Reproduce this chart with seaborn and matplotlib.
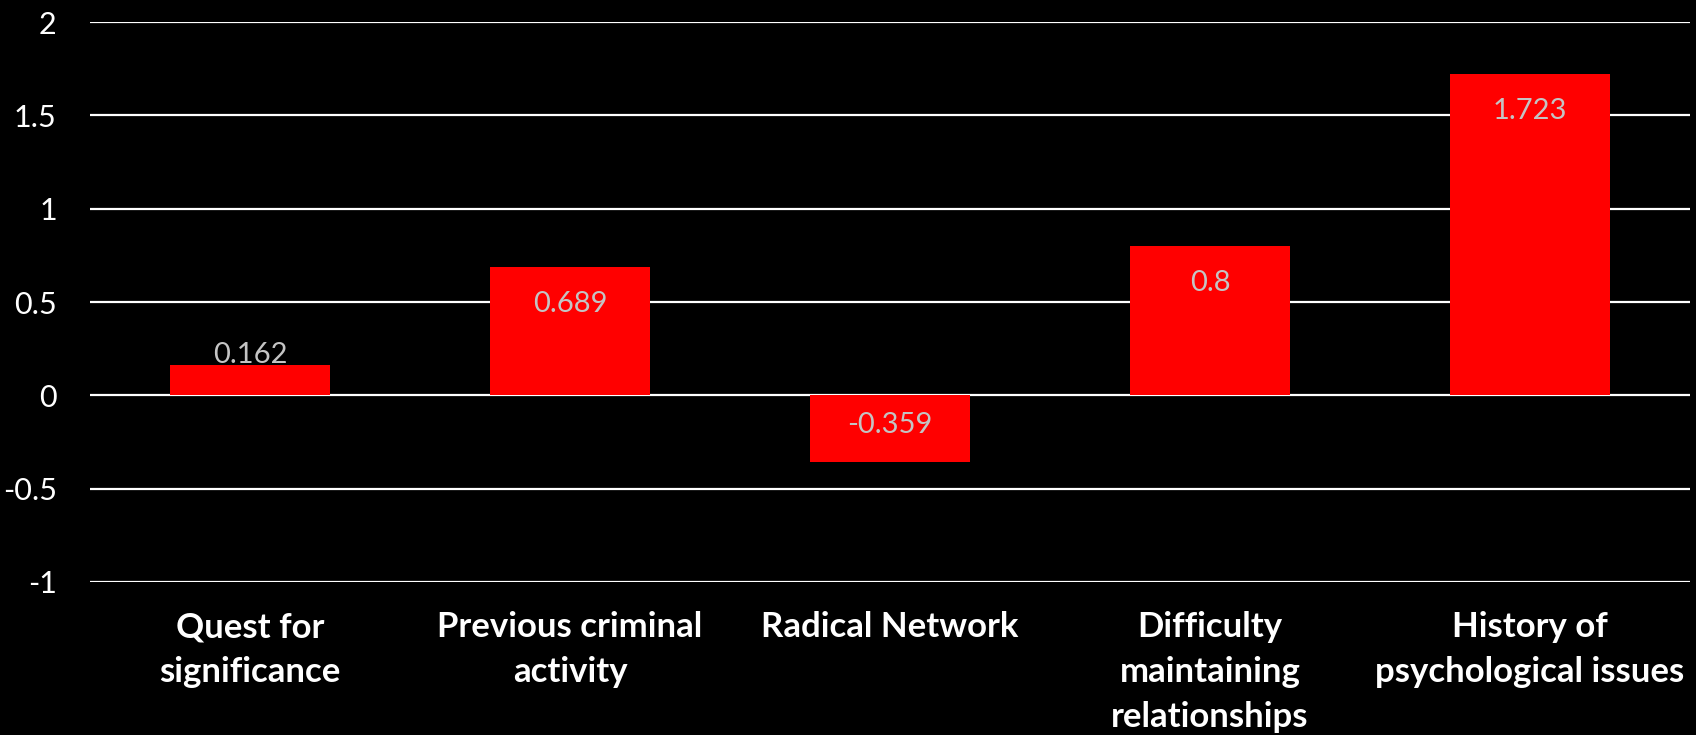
import matplotlib
matplotlib.use("Agg")
import matplotlib.pyplot as plt
import seaborn as sns
import pandas as pd

categories = ["Quest for\nsignificance", "Previous criminal\nactivity", "Radical Network",
              "Difficulty\nmaintaining\nrelationships", "History of\npsychological issues"]
values = [0.162, 0.689, -0.359, 0.8, 1.723]
value_labels = ["0.162", "0.689", "-0.359", "0.8", "1.723"]
yticks = [-1, -0.5, 0, 0.5, 1, 1.5, 2]
ytick_labels = ["-1", "-0.5", "0", "0.5", "1", "1.5", "2"]

sns.set_theme(style="dark")
plt.rcParams['font.family'] = ['Lato', 'DejaVu Sans']

df = pd.DataFrame({"category": categories, "value": values})

fig = plt.figure(figsize=(16.96, 7.35), dpi=100, facecolor="black")
ax = fig.add_axes([0.0531, 0.2082, 0.9434, 0.7618])
ax.set_facecolor("black")

ax.set_ylim(-1, 2)
ax.set_yticks(yticks)
ax.set_yticklabels(ytick_labels)
for y in yticks:
    ax.axhline(y, color="white", lw=1.6, zorder=0)

sns.barplot(data=df, x="category", y="value", color="#ff0000", width=0.5,
            saturation=1, ax=ax, zorder=2, edgecolor="#ff0000", linewidth=0)

cont = ax.containers[0]
inside = [lab if v > 0.3 or v < 0 else "" for lab, v in zip(value_labels, values)]
outside = [lab if 0 <= v <= 0.3 else "" for lab, v in zip(value_labels, values)]
ax.bar_label(cont, labels=inside, padding=-36, color="#c4c4c4", fontsize=21)
ax.bar_label(cont, labels=outside, padding=-2, color="#c4c4c4", fontsize=21)

for s in ax.spines.values():
    s.set_visible(False)
ax.grid(False)
ax.set_xlabel("")
ax.set_ylabel("")
ax.tick_params(axis="y", colors="white", labelsize=22, length=0, pad=24)
ax.tick_params(axis="x", colors="white", labelsize=25, length=0, pad=21)
for t in ax.get_xticklabels():
    t.set_fontweight("bold")
    t.set_linespacing(1.5)
    t.set_verticalalignment("top")
for t in ax.get_yticklabels():
    t.set_horizontalalignment("right")

fig.savefig("out.png", dpi=100, facecolor="black")
